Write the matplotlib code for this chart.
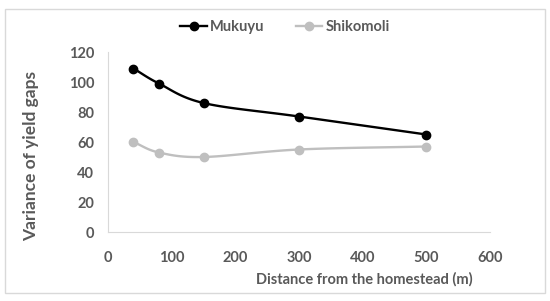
import matplotlib.pyplot as plt
import numpy as np
from matplotlib.patches import Rectangle

distance = [40, 80, 150, 300, 500]
mukuyu = [109, 99, 86, 77, 65]
shikomoli = [60, 53, 50, 55, 57]

x_ticks = [0, 100, 200, 300, 400, 500, 600]
y_ticks = [0, 20, 40, 60, 80, 100, 120]

TEXT = "#595959"
plt.rcParams["font.family"] = ["Lato", "DejaVu Sans"]


def smooth(x, y, n=30):
    """Catmull-Rom curve through the points, like Excel's smoothed line."""
    x = np.asarray(x, float)
    y = np.asarray(y, float)
    px = np.concatenate([[2 * x[0] - x[1]], x, [2 * x[-1] - x[-2]]])
    py = np.concatenate([[2 * y[0] - y[1]], y, [2 * y[-1] - y[-2]]])
    t = np.linspace(0, 1, n)
    xs, ys = [], []
    for i in range(1, len(px) - 2):
        for p, out in ((px, xs), (py, ys)):
            p0, p1, p2, p3 = p[i - 1], p[i], p[i + 1], p[i + 2]
            out.append(0.5 * (2 * p1 + (-p0 + p2) * t
                              + (2 * p0 - 5 * p1 + 4 * p2 - p3) * t ** 2
                              + (-p0 + 3 * p1 - 3 * p2 + p3) * t ** 3))
    return np.concatenate(xs), np.concatenate(ys)


fig = plt.figure(figsize=(5.5, 3.01), dpi=100)
ax = fig.add_axes([108 / 550, 1 - 232 / 301, 382 / 550, 180 / 301])

for vals, color, name in ((mukuyu, "black", "Mukuyu"), (shikomoli, "#bfbfbf", "Shikomoli")):
    sx, sy = smooth(distance, vals)
    ax.plot(sx, sy, color=color, lw=1.7)
    ax.plot(distance, vals, "o", color=color, ms=6)
    ax.plot([], [], "-o", color=color, lw=1.7, ms=6, label=name)

ax.set_xlim(0, 600)
ax.set_ylim(0, 120)
ax.set_xticks(x_ticks)
ax.set_yticks(y_ticks)
ax.tick_params(length=0, colors=TEXT, labelsize=10.5)
ax.tick_params(axis="x", pad=14)
ax.tick_params(axis="y", pad=10)
for lab in ax.get_xticklabels() + ax.get_yticklabels():
    lab.set_fontweight("bold")
for s in ("top", "right"):
    ax.spines[s].set_visible(False)
for s in ("left", "bottom"):
    ax.spines[s].set_color("#d9d9d9")

ax.set_xlabel("Distance from the homestead (m)", color=TEXT, fontsize=10.5,
              fontweight="bold")
ax.xaxis.set_label_coords(0.67, -0.225)
ax.set_ylabel("Variance of yield gaps", color=TEXT, fontsize=12.5,
              fontweight="bold")
ax.yaxis.set_label_coords(-0.18, 0.42)

leg = fig.legend(loc="center", bbox_to_anchor=(285 / 550, 1 - 27 / 301), ncol=2,
                 frameon=False, fontsize=10.5, handlelength=1.8, handletextpad=0.2,
                 columnspacing=2.2)
for t in leg.get_texts():
    t.set_color(TEXT)
    t.set_fontweight("bold")

fig.patches.append(Rectangle((5 / 550, 8 / 301), 540 / 550, 284 / 301,
                             transform=fig.transFigure, fill=False,
                             edgecolor="#d9d9d9", lw=1))

fig.savefig("out.png", dpi=100)
